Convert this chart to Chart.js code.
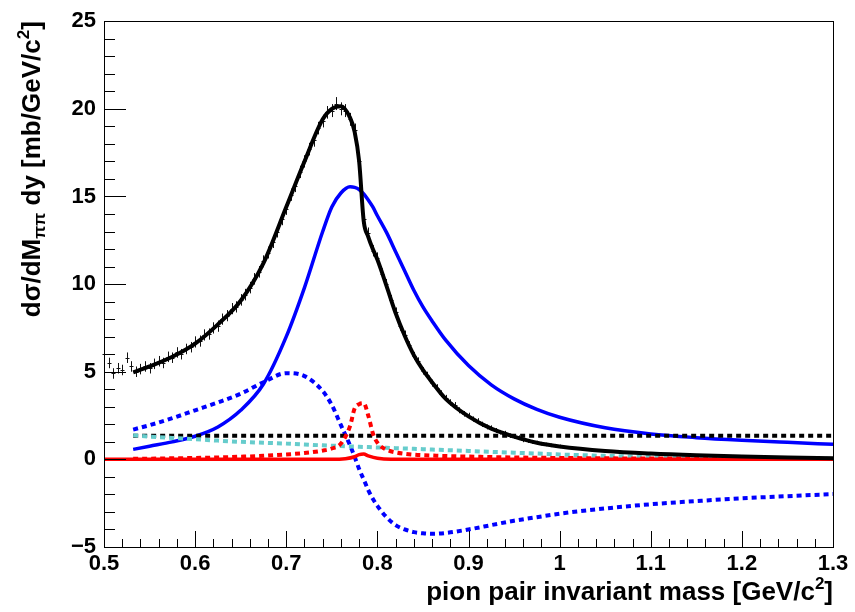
<!DOCTYPE html>
<html>
<head>
<meta charset="utf-8">
<title>pion pair invariant mass</title>
<script src="https://cdn.jsdelivr.net/npm/chart.js@4.4.0/dist/chart.umd.min.js"></script>
<style>
    html, body { margin: 0; padding: 0; background: #ffffff; }
</style>
</head>
<body>
<canvas id="myChartCanvas" width="855" height="612"></canvas>
<script>
    // pontos medidos (com barras de erro)
    const dadosX = [
        0.500, 0.505, 0.510, 0.515, 0.520, 0.525, 0.530, 0.535, 0.540, 0.545,
        0.550, 0.555, 0.560, 0.565, 0.570, 0.575, 0.580, 0.585, 0.590, 0.595,
        0.600, 0.605, 0.610, 0.615, 0.620, 0.625, 0.630, 0.635, 0.640, 0.645,
        0.650, 0.655, 0.660, 0.665, 0.670, 0.675, 0.680, 0.685, 0.690, 0.695,
        0.700, 0.705, 0.710, 0.715, 0.720, 0.725, 0.730, 0.735, 0.740, 0.745,
        0.750, 0.755, 0.760, 0.765, 0.770, 0.775, 0.780, 0.785, 0.790, 0.795,
        0.800, 0.805, 0.810, 0.815, 0.820, 0.825, 0.830, 0.835, 0.840, 0.845,
        0.850, 0.855, 0.860, 0.865, 0.870, 0.875, 0.880, 0.885, 0.890, 0.895,
        0.900, 0.905, 0.910, 0.915, 0.920, 0.925, 0.930, 0.935, 0.940, 0.945,
        0.950, 0.955, 0.960, 0.965, 0.970, 0.975, 0.980, 0.985, 0.990, 0.995,
        1.000
    ];
    const dadosY = [
        6.0, 5.5, 4.9, 5.2, 5.1, 5.8, 5.3, 5.0, 5.15, 5.3,
        5.2, 5.45, 5.6, 5.5, 5.85, 5.8, 6.1, 6.0, 6.3, 6.4,
        6.7, 6.75, 7.1, 7.15, 7.5, 7.6, 8.0, 8.2, 8.6, 8.7,
        9.1, 9.4, 9.8, 10.3, 10.7, 11.3, 11.8, 12.4, 13.0, 13.7,
        14.3, 15.1, 15.6, 16.4, 17.0, 17.7, 18.2, 18.9, 19.3, 19.8,
        19.9, 20.3, 20.0, 19.9, 19.4, 18.8, 17.0, 13.7, 12.9, 11.9,
        11.5, 10.6, 10.0, 9.1, 8.4, 7.6, 7.1, 6.5, 5.9, 5.6,
        5.05, 4.8, 4.35, 4.1, 3.75, 3.5, 3.25, 3.1, 2.8, 2.6,
        2.5, 2.3, 2.2, 2.0, 1.85, 1.8, 1.65, 1.55, 1.5, 1.35,
        1.3, 1.25, 1.1, 1.05, 1.0, 0.95, 0.9, 0.85, 0.8, 0.78,
        0.74
    ];
    const dadosErro = [
        0.30, 0.30, 0.30, 0.30, 0.30, 0.30, 0.30, 0.30, 0.30, 0.30,
        0.30, 0.30, 0.30, 0.30, 0.30, 0.30, 0.30, 0.30, 0.30, 0.30,
        0.32, 0.32, 0.32, 0.32, 0.32, 0.32, 0.32, 0.32, 0.32, 0.32,
        0.33, 0.33, 0.33, 0.33, 0.33, 0.34, 0.34, 0.34, 0.34, 0.34,
        0.35, 0.35, 0.35, 0.35, 0.35, 0.36, 0.36, 0.36, 0.36, 0.36,
        0.37, 0.37, 0.37, 0.37, 0.37, 0.36, 0.36, 0.34, 0.33, 0.32,
        0.31, 0.30, 0.29, 0.28, 0.27, 0.26, 0.25, 0.24, 0.23, 0.22,
        0.21, 0.20, 0.20, 0.19, 0.19, 0.18, 0.18, 0.17, 0.17, 0.16,
        0.16, 0.15, 0.15, 0.15, 0.14, 0.14, 0.14, 0.13, 0.13, 0.13,
        0.12, 0.12, 0.12, 0.11, 0.11, 0.11, 0.10, 0.10, 0.10, 0.10,
        0.10
    ];

    // curvas do ajuste (todas no mesmo eixo x)
    const curvaX = [
        0.532, 0.55, 0.575, 0.6, 0.625, 0.65, 0.675, 0.7, 0.72, 0.74,
        0.75, 0.76, 0.77, 0.775, 0.78, 0.785, 0.79, 0.795, 0.8, 0.81,
        0.82, 0.83, 0.84, 0.85, 0.86, 0.875, 0.9, 0.925, 0.95, 0.975,
        1.0, 1.05, 1.1, 1.15, 1.2, 1.25, 1.3
    ];
    const totalY = [
        4.96, 5.3, 5.85, 6.6, 7.7, 9.05, 11.2, 14.4, 17.0, 19.4,
        20.0, 20.15, 19.5, 18.7, 17.0, 13.6, 12.7, 12.0, 11.4, 9.9,
        8.35, 7.05, 5.95, 5.1, 4.4, 3.45, 2.45, 1.75, 1.3, 0.95,
        0.74, 0.48, 0.33, 0.23, 0.16, 0.11, 0.07
    ];
    const rhoY = [
        0.57, 0.75, 1.0, 1.32, 1.85, 2.8, 4.3, 7.0, 9.8, 13.0,
        14.4, 15.2, 15.55, 15.52, 15.4, 15.15, 14.8, 14.4, 13.9, 12.95,
        11.85, 10.75, 9.65, 8.7, 7.9, 6.8, 5.35, 4.25, 3.45, 2.85,
        2.4, 1.8, 1.45, 1.24, 1.09, 0.97, 0.86
    ];
    const interfY = [
        1.7, 1.95, 2.35, 2.8, 3.25, 3.75, 4.4, 4.92, 4.75, 3.9,
        3.1, 1.95, 0.8, 0.15, -0.55, -1.15, -1.75, -2.25, -2.65, -3.3,
        -3.75, -4.0, -4.15, -4.22, -4.25, -4.2, -4.0, -3.75, -3.5, -3.3,
        -3.1, -2.8, -2.56, -2.38, -2.22, -2.1, -1.98
    ];
    const fundoY = [
        1.35, 1.35, 1.35, 1.35, 1.35, 1.35, 1.35, 1.35, 1.35, 1.35,
        1.35, 1.35, 1.35, 1.35, 1.35, 1.35, 1.35, 1.35, 1.35, 1.35,
        1.35, 1.35, 1.35, 1.35, 1.35, 1.35, 1.35, 1.35, 1.35, 1.35,
        1.35, 1.35, 1.35, 1.35, 1.35, 1.35, 1.35
    ];
    const cianoY = [
        1.37, 1.3, 1.22, 1.15, 1.07, 1.0, 0.95, 0.9, 0.85, 0.8,
        0.78, 0.76, 0.74, 0.73, 0.72, 0.71, 0.7, 0.69, 0.68, 0.66,
        0.64, 0.62, 0.6, 0.58, 0.56, 0.53, 0.48, 0.43, 0.38, 0.33,
        0.28, 0.2, 0.14, 0.1, 0.07, 0.05, 0.03
    ];
    const omegaY = [
        0.03, 0.04, 0.06, 0.08, 0.11, 0.15, 0.2, 0.28, 0.36, 0.5,
        0.62, 0.9, 1.9, 2.9, 3.15, 3.2, 2.5, 1.5, 0.95, 0.55,
        0.4, 0.32, 0.27, 0.24, 0.22, 0.19, 0.16, 0.13, 0.11, 0.09,
        0.08, 0.06, 0.05, 0.04, 0.03, 0.03, 0.02
    ];
    // linha vermelha cheia começa no início do eixo
    const omegaFitX = [0.5, 0.75, 0.765, 0.775, 0.78, 0.785, 0.79, 0.8, 0.815, 1.3];
    const omegaFitY = [0, 0, 0.04, 0.15, 0.27, 0.3, 0.2, 0.06, 0, 0];

    function pares(xs, ys) {
        let lista = [];
        for (let i = 0; i < xs.length; i++) {
            lista.push({ x: xs[i], y: ys[i] });
        }
        return lista;
    }

    function linha(dados, cor, largura, pontilhada, ordem) {
        return {
            data: dados,
            showLine: true,
            borderColor: cor,
            borderWidth: largura,
            borderDash: pontilhada ? [5, 4] : [],
            borderCapStyle: 'butt',
            pointRadius: 0,
            cubicInterpolationMode: 'monotone',
            order: ordem
        };
    }

    // barras de erro dos pontos, desenhadas antes das curvas
    const barrasErro = {
        id: 'barrasErro',
        beforeDatasetsDraw(chart) {
            const ctx = chart.ctx;
            const sx = chart.scales.x, sy = chart.scales.y;
            ctx.save();
            ctx.strokeStyle = '#111111';
            ctx.lineWidth = 1;
            ctx.beginPath();
            for (let i = 0; i < dadosX.length; i++) {
                const px = Math.round(sx.getPixelForValue(dadosX[i])) + 0.5;
                const py = Math.round(sy.getPixelForValue(dadosY[i])) + 0.5;
                ctx.moveTo(px, sy.getPixelForValue(dadosY[i] - dadosErro[i]));
                ctx.lineTo(px, sy.getPixelForValue(dadosY[i] + dadosErro[i]));
                ctx.moveTo(px - 2, py);
                ctx.lineTo(px + 2, py);
            }
            ctx.stroke();
            ctx.restore();
        }
    };

    // moldura, marcas para dentro e títulos dos eixos (estilo ROOT)
    const moldura = {
        id: 'moldura',
        afterDraw(chart) {
            const ctx = chart.ctx;
            const a = chart.chartArea;
            const sx = chart.scales.x, sy = chart.scales.y;
            ctx.save();
            ctx.strokeStyle = '#000000';
            ctx.lineWidth = 1;
            ctx.strokeRect(Math.round(a.left) + 0.5, Math.round(a.top) + 0.5,
                Math.round(a.right - a.left), Math.round(a.bottom - a.top));

            ctx.beginPath();
            for (let v = -5; v <= 25; v++) {
                const py = Math.round(sy.getPixelForValue(v)) + 0.5;
                const tam = (v % 5 == 0) ? 22 : 11;
                ctx.moveTo(a.left, py);
                ctx.lineTo(a.left + tam, py);
            }
            for (let i = 0; i <= 40; i++) {
                const px = Math.round(sx.getPixelForValue(0.5 + i * 0.02)) + 0.5;
                const tam = (i % 5 == 0) ? 16 : 8;
                ctx.moveTo(px, a.bottom);
                ctx.lineTo(px, a.bottom - tam);
            }
            ctx.stroke();

            ctx.fillStyle = '#000000';
            ctx.textBaseline = 'alphabetic';

            // título do eixo x
            const partesX = [
                ['pion pair invariant mass [GeV/c', 26, 0],
                ['2', 17, -11],
                [']', 26, 0]
            ];
            let totalX = 0;
            partesX.forEach(p => {
                ctx.font = 'bold ' + p[1] + 'px "Liberation Sans", Arial, sans-serif';
                totalX += ctx.measureText(p[0]).width;
            });
            let cx = a.right - totalX;
            partesX.forEach(p => {
                ctx.font = 'bold ' + p[1] + 'px "Liberation Sans", Arial, sans-serif';
                ctx.fillText(p[0], cx, 600 + p[2]);
                cx += ctx.measureText(p[0]).width;
            });

            // título do eixo y (girado)
            const partesY = [
                ['d\u03c3/dM', 26, 0],
                ['\u03c0\u03c0', 17, 5],
                [' dy [mb/GeV/c', 26, 0],
                ['2', 17, -11],
                [']', 26, 0]
            ];
            let totalY = 0;
            partesY.forEach(p => {
                ctx.font = 'bold ' + p[1] + 'px "Liberation Sans", Arial, sans-serif';
                totalY += ctx.measureText(p[0]).width;
            });
            ctx.translate(40, a.top + totalY);
            ctx.rotate(-Math.PI / 2);
            let cy = 0;
            partesY.forEach(p => {
                ctx.font = 'bold ' + p[1] + 'px "Liberation Sans", Arial, sans-serif';
                ctx.fillText(p[0], cy, p[2]);
                cy += ctx.measureText(p[0]).width;
            });
            ctx.restore();
        }
    };

    const fonteTicks = { family: '"Liberation Sans", Arial, sans-serif', size: 22, weight: 'bold' };

    const config = {
        type: 'scatter',
        data: {
            datasets: [
                linha(pares(curvaX, totalY), '#000000', 4, false, 1),
                linha(pares(omegaFitX, omegaFitY), '#ff0000', 3.5, false, 2),
                linha(pares(curvaX, omegaY), '#ff0000', 4, true, 3),
                linha(pares(curvaX, cianoY), '#66cccc', 4, true, 4),
                linha(pares(curvaX, fundoY), '#000000', 4, true, 5),
                linha(pares(curvaX, interfY), '#0000ff', 4, true, 6),
                linha(pares(curvaX, rhoY), '#0000ff', 3.5, false, 7)
            ]
        },
        options: {
            responsive: false,
            animation: false,
            devicePixelRatio: 1,
            layout: { padding: { top: 9, right: 22, left: 0, bottom: 0 } },
            plugins: {
                legend: { display: false },
                tooltip: { enabled: false }
            },
            scales: {
                x: {
                    type: 'linear',
                    min: 0.5,
                    max: 1.3,
                    grid: { display: false, drawTicks: false },
                    border: { display: false },
                    ticks: {
                        stepSize: 0.1,
                        color: '#000000',
                        font: fonteTicks,
                        padding: 4,
                        maxRotation: 0,
                        autoSkip: false,
                        callback: v => String(+v.toFixed(1))
                    },
                    afterFit: s => { s.height = 65; }
                },
                y: {
                    min: -5,
                    max: 25,
                    grid: { display: false, drawTicks: false },
                    border: { display: false },
                    ticks: {
                        stepSize: 5,
                        color: '#000000',
                        font: fonteTicks,
                        padding: 8,
                        callback: v => String(v).replace('-', '\u2212')
                    },
                    afterFit: s => { s.width = 104; }
                }
            }
        },
        plugins: [barrasErro, moldura]
    };

    let myChart = new Chart(document.getElementById('myChartCanvas'), config);
</script>
</body>
</html>
